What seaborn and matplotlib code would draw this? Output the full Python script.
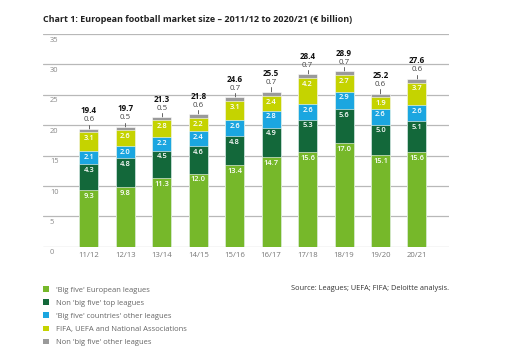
import matplotlib
matplotlib.use('Agg')
import matplotlib.pyplot as plt
import matplotlib.transforms as mtransforms
from matplotlib.patches import Patch
import numpy as np
import seaborn as sns

# Dados (€ bilhões)
seasons = ['11/12', '12/13', '13/14', '14/15', '15/16', '16/17', '17/18', '18/19', '19/20', '20/21']
big_five = [9.3, 9.8, 11.3, 12.0, 13.4, 14.7, 15.6, 17.0, 15.1, 15.6]
non_big_five_top = [4.3, 4.8, 4.5, 4.6, 4.8, 4.9, 5.3, 5.6, 5.0, 5.1]
big_five_other = [2.1, 2.0, 2.2, 2.4, 2.6, 2.8, 2.6, 2.9, 2.6, 2.6]
fifa_uefa = [3.1, 2.6, 2.8, 2.2, 3.1, 2.4, 4.2, 2.7, 1.9, 3.7]
non_big_five_other = [0.6, 0.5, 0.5, 0.6, 0.7, 0.7, 0.7, 0.7, 0.6, 0.6]
totals = [19.4, 19.7, 21.3, 21.8, 24.6, 25.5, 28.4, 28.9, 25.2, 27.6]

labels = ["'Big five' European leagues", "Non 'big five' top leagues",
          "'Big five' countries' other leagues", "FIFA, UEFA and National Associations",
          "Non 'big five' other leagues"]
colors = ['#76b82a', '#13683a', '#1ba6e0', '#c5d300', '#9a9a9a']

sns.set_style('white')
plt.rcParams['font.family'] = ['Open Sans', 'DejaVu Sans']

fig = plt.figure(figsize=(5.26, 3.57), dpi=100)
ax = fig.add_axes([43/526, 1 - 246.7/357, 406/526, (246.7 - 34)/357])

layers = [big_five, non_big_five_top, big_five_other, fifa_uefa, non_big_five_other]
cum = np.cumsum(np.array(layers), axis=0)

# Barras empilhadas: desenhar do topo para baixo
for i in range(len(layers) - 1, -1, -1):
    sns.barplot(x=seasons, y=cum[i], color=colors[i], saturation=1, width=0.52,
                errorbar=None, edgecolor='white', linewidth=0.4, ax=ax, zorder=2)

# Rótulos dentro dos segmentos (exceto o cinza)
for i in range(4):
    for j in range(len(seasons)):
        ax.annotate(f'{layers[i][j]:.1f}', (j, cum[i][j]), xytext=(0, -6.2),
                    textcoords='offset pixels', ha='center', va='center',
                    color='white', fontsize=5.4, fontweight='semibold', zorder=3)

# Rótulos acima das barras
for j in range(len(seasons)):
    top = cum[-1][j]
    ax.plot([j, j], [top, top + 0.7], color='#666666', lw=0.7, zorder=1)
    ax.annotate(f'{non_big_five_other[j]:.1f}', (j, top), xytext=(0, 9),
                textcoords='offset pixels', ha='center', va='center',
                color='#444444', fontsize=5.7)
    ax.annotate(f'{totals[j]:.1f}', (j, top), xytext=(0, 18),
                textcoords='offset pixels', ha='center', va='center',
                color='#111111', fontsize=5.8, fontweight='bold')

ax.set_xlim(-1.26, 9.88)
ax.set_ylim(0, 35)
ax.set_yticks(range(0, 36, 5))
ax.set_yticklabels([])
ax.yaxis.grid(True, color='#b8b8b8', lw=0.9)
ax.set_axisbelow(True)
for s in ax.spines.values():
    s.set_visible(False)
ax.tick_params(axis='x', length=0, pad=3.5, labelsize=5.6, labelcolor='#777777')
ax.tick_params(axis='y', length=0)

trans = mtransforms.blended_transform_factory(ax.transAxes, ax.transData)
for v in range(0, 36, 5):
    ax.annotate(str(v), (0.017, v), xycoords=trans, xytext=(0, -6.2),
                textcoords='offset pixels', ha='left', va='center',
                color='#888888', fontsize=5.4)

fig.text(43/526, 1 - 19/357, 'Chart 1: European football market size \u2013 2011/12 to 2020/21 (\u20ac billion)',
         fontsize=6.5, fontweight='bold', color='#222222', va='center', ha='left')

handles = [Patch(facecolor=c, edgecolor='none') for c in colors]
fig.legend(handles, labels, loc='upper left', bbox_to_anchor=(40/526, 1 - 283/357),
           frameon=False, fontsize=5.5, labelcolor='#666666', handlelength=0.75,
           handleheight=0.75, handletextpad=1.0, labelspacing=0.75, borderaxespad=0)

fig.text(449/526, 1 - 289/357, 'Source: Leagues; UEFA; FIFA; Deloitte analysis.',
         fontsize=5.35, color='#333333', ha='right', va='center')

plt.savefig('out.png', dpi=100)
